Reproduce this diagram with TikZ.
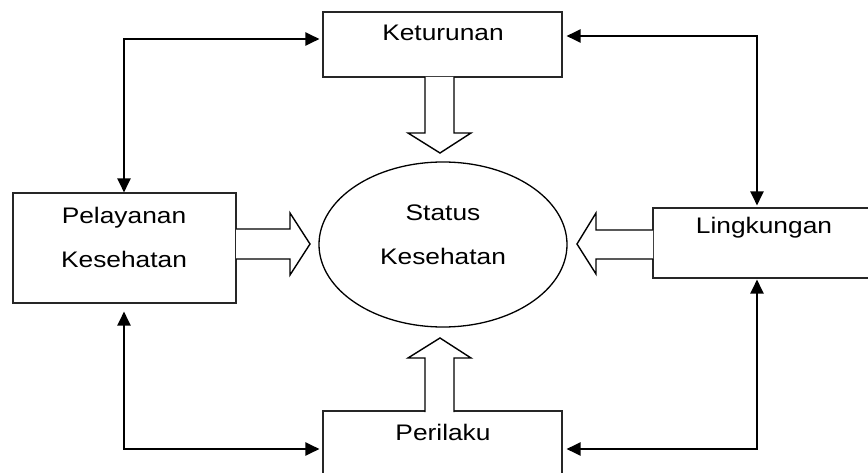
\documentclass[tikz,border=0pt]{standalone}
\usepackage{fontspec}
\setmainfont{Liberation Sans}[FakeStretch=1.17]
\usetikzlibrary{arrows.meta,shapes.geometric}
\begin{document}
\begin{tikzpicture}[x=1pt,y=-1pt,
  box/.style={draw=black!85,line width=1.1pt,rectangle,inner sep=0pt},
  txt/.style={inner sep=0pt,align=center,font=\fontsize{22.5}{44.5}\selectfont},
  blk/.style={draw=black,line width=1.4pt,fill=white,line join=miter},
  link/.style={draw=black,line width=2.2pt,
    {Triangle[length=14pt,width=13pt]}-{Triangle[length=14pt,width=13pt]}}]
\useasboundingbox (0,0) rectangle (868,473);

% boxes
\node[box,minimum width=239pt,minimum height=65pt] (ket) at (442.5,44.5) {};
\node[box,minimum width=223pt,minimum height=110pt] (pel) at (124.5,248) {};
\node[box,minimum width=227pt,minimum height=70pt] (lin) at (766.5,243) {};
\node[box,minimum width=239pt,minimum height=79pt] (per) at (442.5,450.5) {};
\node[draw=black,line width=1.3pt,ellipse,minimum width=248pt,minimum height=165pt,inner sep=0pt] (stat) at (443,244.5) {};

% labels
\node[txt] (ketT) at (443,33) {Keturunan};
\node[txt] (pelT) at (124,237.5) {Pelayanan\\Kesehatan};
\node[txt] (linT) at (764,228) {Lingkungan};
\node[txt] (perT) at (443,432) {Perilaku};
\node[txt] (statT) at (443,235) {Status\\Kesehatan};

% hollow block arrows toward the centre
\draw[blk] (425,77) -- (425,133) -- (408,133) -- (440,153) -- (471,133) -- (454,133) -- (454,77);
\draw[blk] (425,412) -- (425,358) -- (408,358) -- (440,338) -- (471,358) -- (454,358) -- (454,412);
\draw[blk] (236,229) -- (290,229) -- (290,213) -- (310,244) -- (290,275) -- (290,259) -- (236,259);
\draw[blk] (653,230) -- (596,230) -- (596,213) -- (577,244) -- (596,274) -- (596,259) -- (653,259);

% corner points of the two-way links
\coordinate (c1) at (124,39);
\coordinate (c2) at (757,36);
\coordinate (c3) at (124,449);
\coordinate (c4) at (757,449);

\draw[link,shorten >=3pt] (c1 |- pel.north) -- (c1) -- (c1 -| ket.west);
\draw[link,shorten <=4pt,shorten >=2pt] (c2 -| ket.east) -- (c2) -- (c2 |- lin.north);
\draw[link,shorten <=8pt,shorten >=3pt] (c3 |- pel.south) -- (c3) -- (c3 -| per.west);
\draw[link,shorten <=1pt,shorten >=4pt] (c4 |- lin.south) -- (c4) -- (c4 -| per.east);
\end{tikzpicture}
\end{document}
